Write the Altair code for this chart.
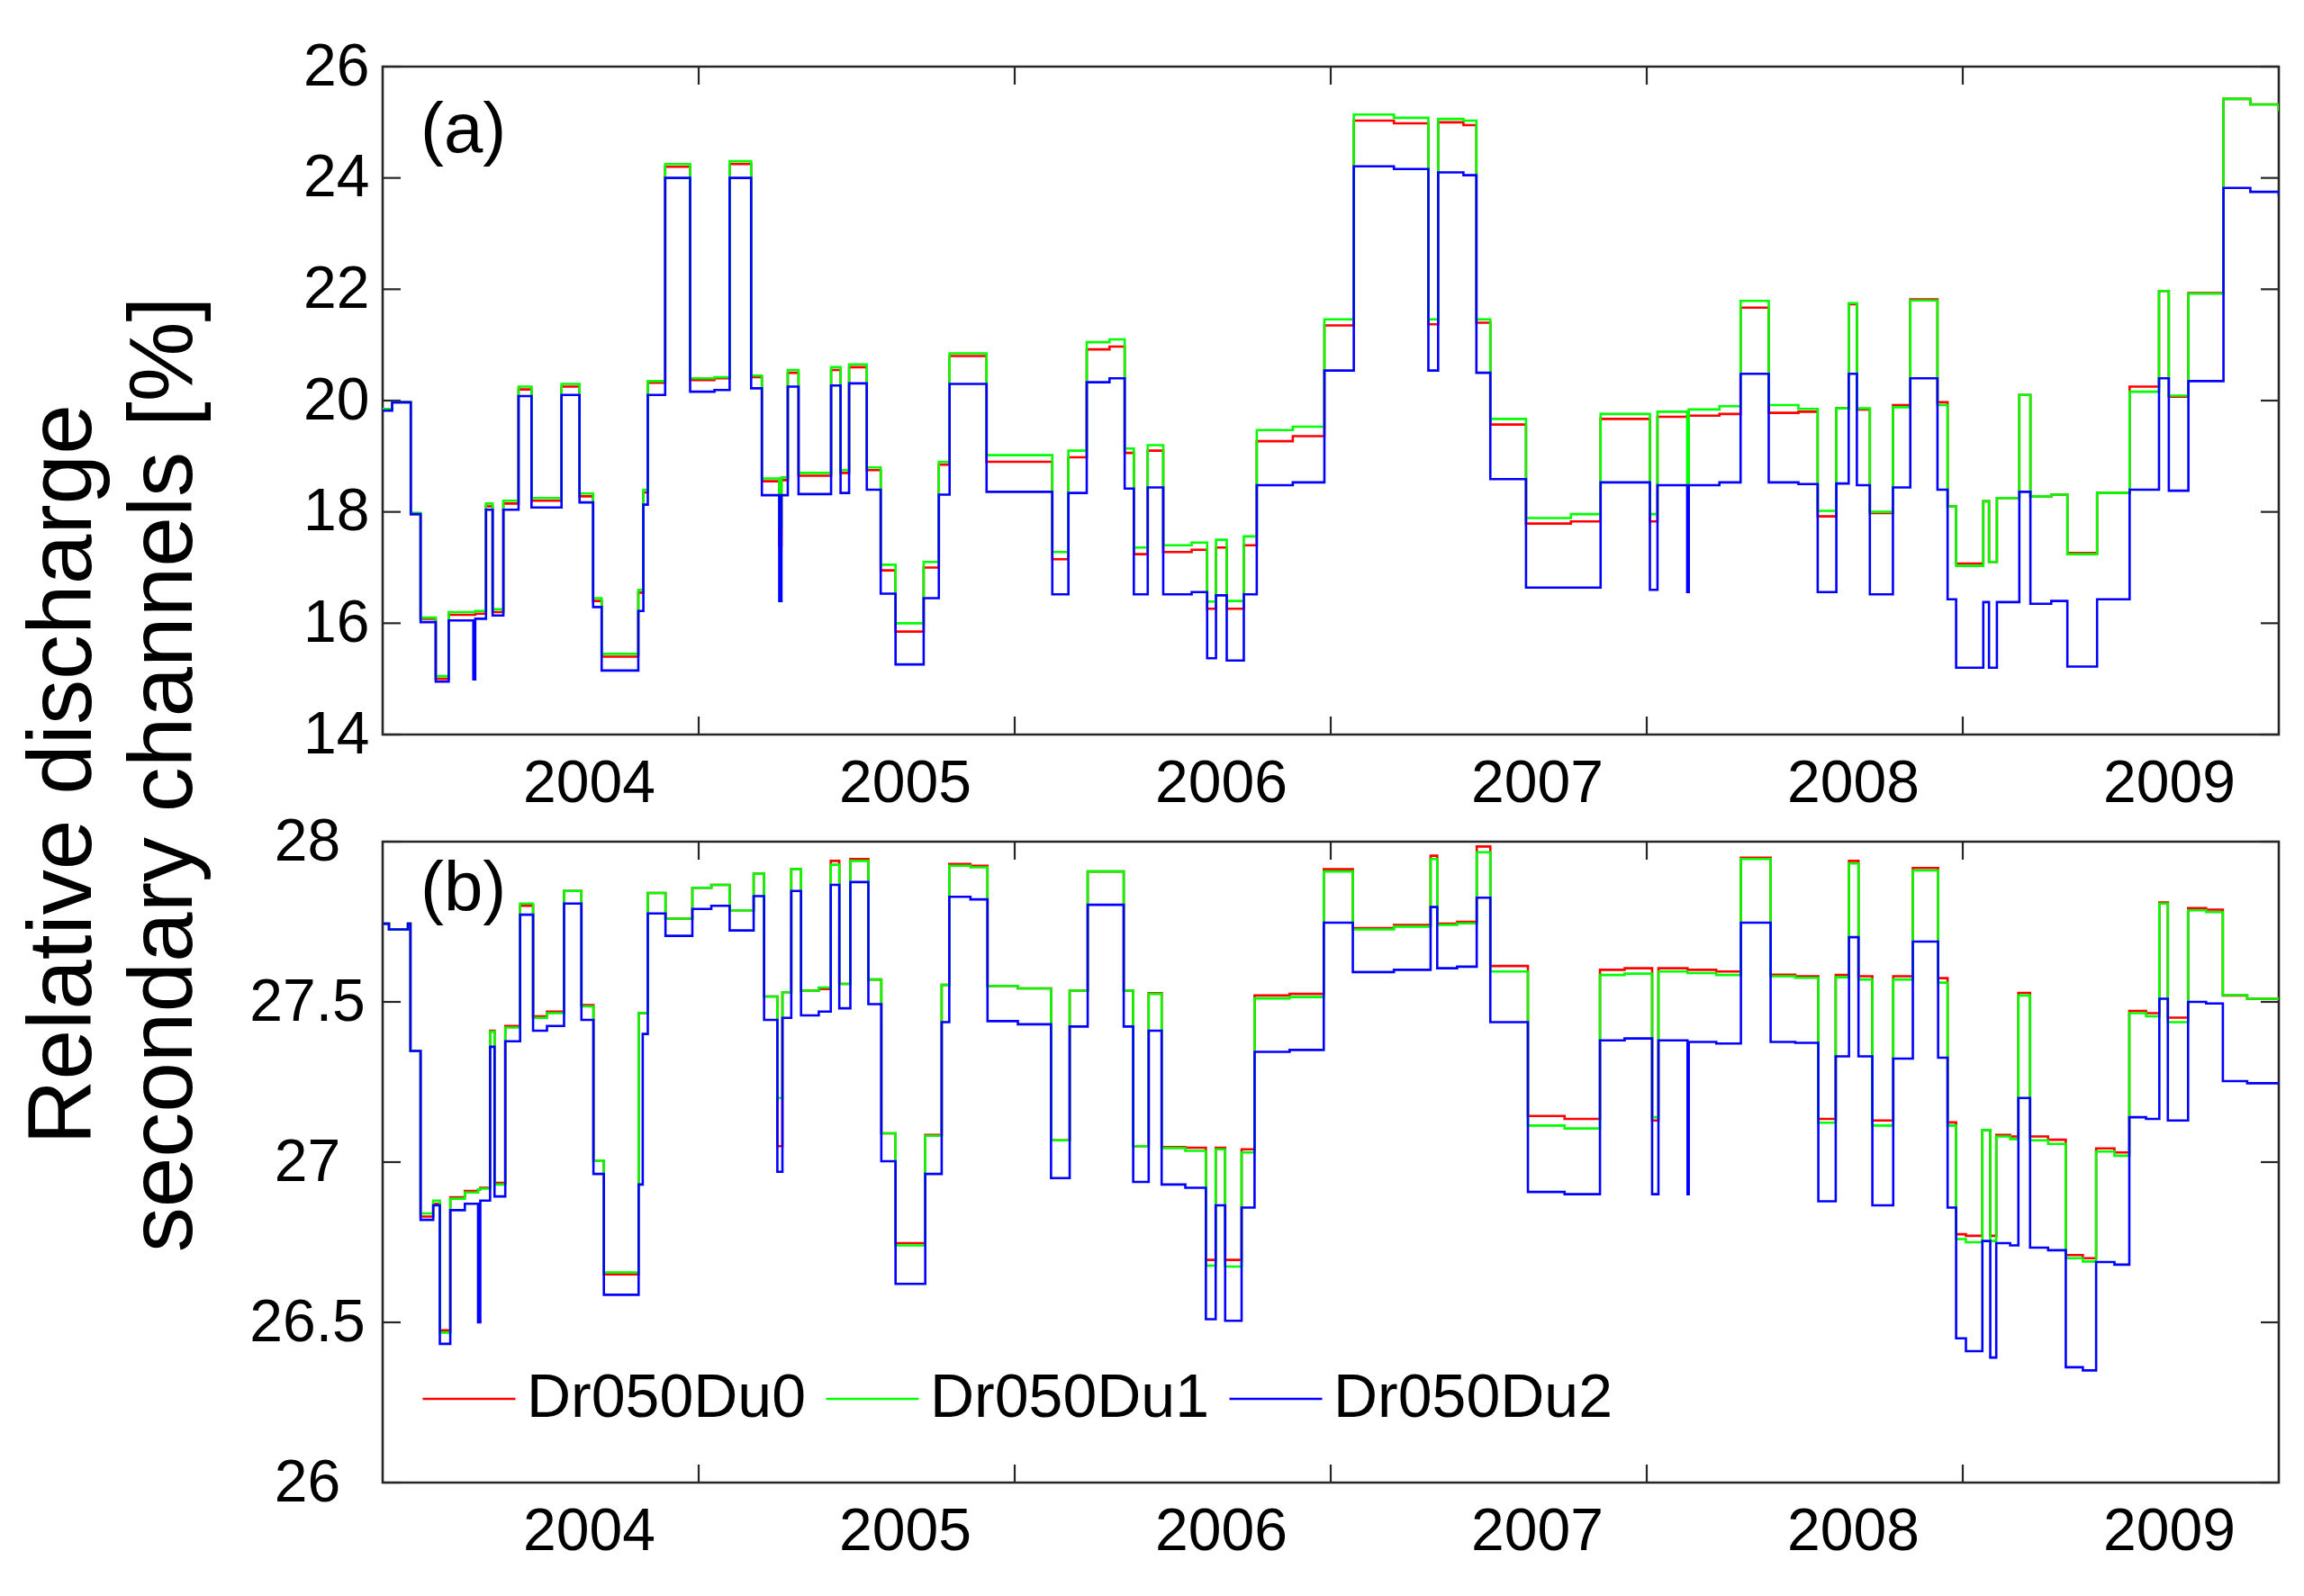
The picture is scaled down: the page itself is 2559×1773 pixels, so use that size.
import altair as alt
import pandas as pd

FONT = "Liberation Sans"
FRAME = "#262626"
SERIES = ["Dr050Du0", "Dr050Du1", "Dr050Du2"]
COLORS = ["#ff0000", "#00ff00", "#0000ff"]

YEAR_LABEL_TICKS = [2004, 2005, 2006, 2007, 2008, 2009]
YEAR_MARKS = [2004, 2005, 2006, 2007, 2008]
START_YEAR = 2003

# ---------------- panel (a): years since start, Du0 / Du1 / Du2 ----------------
TA = [0.000, 0.030, 0.089, 0.120, 0.168, 0.209, 0.287, 0.293, 0.327, 0.348,
      0.382, 0.430, 0.471, 0.566, 0.623, 0.666, 0.693, 0.809, 0.825, 0.839,
      0.894, 0.973, 1.050, 1.098, 1.166, 1.200, 1.255, 1.262, 1.282, 1.316,
      1.419, 1.449, 1.476, 1.532, 1.576, 1.623, 1.712, 1.760, 1.794, 1.911,
      2.119, 2.170, 2.228, 2.300, 2.348, 2.377, 2.421, 2.470, 2.560, 2.609,
      2.637, 2.671, 2.725, 2.766, 2.880, 2.980, 3.073, 3.200, 3.309, 3.340,
      3.420, 3.461, 3.505, 3.618, 3.760, 3.854, 4.010, 4.034, 4.128, 4.133,
      4.230, 4.297, 4.386, 4.480, 4.541, 4.600, 4.639, 4.665, 4.706, 4.779,
      4.834, 4.920, 4.952, 4.979, 5.065, 5.083, 5.108, 5.179, 5.214, 5.280,
      5.331, 5.425, 5.528, 5.621, 5.652, 5.714, 5.825, 5.910, 6.000]
A_DU0 = [19.85, 19.97, 17.96, 16.08, 15.00, 16.15, 16.15, 16.17, 18.10, 16.20,
         18.15, 20.20, 18.20, 20.25, 18.28, 16.40, 15.40, 16.55, 18.35, 20.32,
         24.20, 20.37, 20.40, 24.25, 20.42, 18.55, 17.40, 18.57, 20.50, 18.65,
         20.55, 18.70, 20.60, 18.75, 16.95, 15.85, 17.00, 18.85, 20.80, 18.90,
         17.15, 18.98, 20.92, 20.97, 19.06, 17.24, 19.10, 17.28, 17.32, 16.26,
         17.36, 16.26, 17.40, 19.27, 19.36, 21.35, 25.03, 24.98, 21.37, 25.00,
         24.95, 21.40, 19.57, 17.79, 17.83, 19.67, 17.83, 19.71, 19.72, 19.73,
         19.76, 21.67, 19.78, 19.80, 17.92, 19.86, 21.73, 19.84, 17.98, 19.92,
         21.82, 19.97, 18.10, 17.07, 18.19, 17.10, 18.25, 20.10, 18.28, 18.31,
         17.26, 18.34, 20.25, 21.97, 20.07, 21.93, 25.42, 25.32, 25.20]
A_DU1 = [19.85, 19.97, 17.98, 16.10, 15.05, 16.20, 16.20, 16.22, 18.15, 16.25,
         18.20, 20.25, 18.25, 20.30, 18.33, 16.45, 15.45, 16.60, 18.40, 20.35,
         24.25, 20.40, 20.42, 24.30, 20.45, 18.60, 17.70, 18.62, 20.55, 18.70,
         20.60, 18.75, 20.65, 18.80, 17.05, 16.00, 17.10, 18.90, 20.85, 19.02,
         17.28, 19.10, 21.05, 21.10, 19.14, 17.36, 19.20, 17.40, 17.45, 16.39,
         17.50, 16.40, 17.56, 19.47, 19.53, 21.46, 25.14, 25.08, 21.46, 25.06,
         25.03, 21.46, 19.67, 17.89, 17.96, 19.76, 17.96, 19.80, 18.50, 19.84,
         19.90, 21.79, 19.92, 19.85, 18.02, 19.86, 21.75, 19.86, 18.00, 19.88,
         21.80, 19.92, 18.10, 17.03, 18.19, 17.10, 18.25, 20.10, 18.28, 18.31,
         17.24, 18.34, 20.16, 21.97, 20.09, 21.92, 25.42, 25.32, 25.20]
A_DU2 = [19.82, 19.97, 17.96, 16.02, 14.95, 16.05, 14.99, 16.08, 18.04, 16.14,
         18.04, 20.08, 18.08, 20.10, 18.17, 16.29, 15.15, 16.22, 18.13, 20.10,
         24.00, 20.16, 20.19, 24.00, 20.22, 18.30, 16.40, 18.30, 20.25, 18.32,
         20.27, 18.34, 20.31, 18.40, 16.53, 15.26, 16.45, 18.31, 20.30, 18.36,
         16.52, 18.34, 20.33, 20.40, 18.42, 16.52, 18.44, 16.52, 16.56, 15.37,
         16.50, 15.33, 16.52, 18.48, 18.53, 20.54, 24.21, 24.16, 20.54, 24.10,
         24.05, 20.50, 18.59, 16.64, 16.64, 18.53, 16.60, 18.48, 16.56, 18.48,
         18.53, 20.48, 18.53, 18.50, 16.56, 18.51, 20.48, 18.48, 16.52, 18.44,
         20.40, 18.40, 16.43, 15.20, 16.38, 15.20, 16.38, 18.36, 16.35, 16.40,
         15.22, 16.43, 18.40, 20.40, 18.38, 20.35, 23.82, 23.75, 23.68]

# ---------------- panel (b) ----------------
TB = [0.000, 0.020, 0.080, 0.088, 0.120, 0.160, 0.181, 0.214, 0.260, 0.302,
      0.309, 0.340, 0.354, 0.388, 0.435, 0.476, 0.520, 0.574, 0.629, 0.667,
      0.700, 0.810, 0.823, 0.839, 0.895, 0.980, 1.040, 1.098, 1.174, 1.207,
      1.249, 1.265, 1.293, 1.324, 1.380, 1.418, 1.445, 1.480, 1.537, 1.578,
      1.623, 1.717, 1.769, 1.793, 1.860, 1.914, 2.010, 2.115, 2.174, 2.231,
      2.345, 2.375, 2.424, 2.465, 2.540, 2.605, 2.636, 2.666, 2.718, 2.759,
      2.870, 2.978, 3.070, 3.200, 3.316, 3.337, 3.400, 3.462, 3.505, 3.624,
      3.740, 3.852, 3.930, 4.017, 4.037, 4.129, 4.133, 4.220, 4.298, 4.392,
      4.470, 4.543, 4.598, 4.640, 4.670, 4.714, 4.780, 4.842, 4.922, 4.952,
      4.979, 5.010, 5.062, 5.087, 5.106, 5.150, 5.176, 5.213, 5.270, 5.326,
      5.380, 5.422, 5.480, 5.527, 5.580, 5.622, 5.649, 5.713, 5.770, 5.823,
      5.900, 6.000]
B_DU0 = [27.744, 27.726, 27.744, 27.347, 26.830, 26.870, 26.475, 26.890, 26.910, 26.915,
         26.920, 27.410, 26.935, 27.425, 27.800, 27.455, 27.470, 27.846, 27.490, 27.005,
         26.650, 27.465, 27.465, 27.840, 27.760, 27.856, 27.865, 27.786, 27.900, 27.517,
         27.050, 27.530, 27.914, 27.535, 27.540, 27.940, 27.556, 27.946, 27.570, 27.090,
         26.747, 27.085, 27.553, 27.930, 27.925, 27.550, 27.542, 27.068, 27.535, 27.907,
         27.535, 27.050, 27.527, 27.047, 27.045, 26.695, 27.045, 26.695, 27.040, 27.520,
         27.525, 27.914, 27.730, 27.740, 27.956, 27.744, 27.750, 27.985, 27.612, 27.144,
         27.135, 27.600, 27.605, 27.130, 27.605, 27.600, 27.600, 27.595, 27.950, 27.585,
         27.580, 27.135, 27.584, 27.940, 27.580, 27.130, 27.580, 27.918, 27.574, 27.124,
         26.775, 26.770, 27.100, 26.770, 27.085, 27.080, 27.528, 27.080, 27.070, 26.710,
         26.700, 27.043, 27.030, 27.472, 27.465, 27.810, 27.451, 27.793, 27.788, 27.520,
         27.510, 27.510]
B_DU1 = [27.744, 27.726, 27.744, 27.347, 26.840, 26.880, 26.468, 26.886, 26.905, 26.915,
         26.917, 27.407, 26.930, 27.420, 27.807, 27.450, 27.465, 27.846, 27.486, 27.005,
         26.656, 27.465, 27.465, 27.840, 27.760, 27.856, 27.865, 27.786, 27.900, 27.517,
         27.200, 27.530, 27.914, 27.535, 27.545, 27.928, 27.556, 27.940, 27.570, 27.090,
         26.740, 27.082, 27.553, 27.925, 27.920, 27.550, 27.542, 27.068, 27.535, 27.907,
         27.535, 27.050, 27.525, 27.044, 27.035, 26.677, 27.040, 26.674, 27.030, 27.511,
         27.515, 27.907, 27.726, 27.735, 27.946, 27.740, 27.745, 27.967, 27.595, 27.114,
         27.105, 27.584, 27.588, 27.140, 27.595, 27.590, 27.590, 27.584, 27.946, 27.580,
         27.575, 27.123, 27.577, 27.932, 27.570, 27.114, 27.570, 27.910, 27.560, 27.114,
         26.760, 26.750, 27.100, 26.754, 27.080, 27.072, 27.520, 27.068, 27.057, 26.700,
         26.690, 27.033, 27.020, 27.465, 27.455, 27.807, 27.437, 27.786, 27.780, 27.521,
         27.510, 27.510]
B_DU2 = [27.744, 27.726, 27.744, 27.347, 26.820, 26.865, 26.433, 26.850, 26.870, 26.500,
         26.880, 27.360, 26.893, 27.377, 27.772, 27.410, 27.425, 27.807, 27.444, 26.963,
         26.586, 26.930, 27.400, 27.776, 27.706, 27.790, 27.800, 27.723, 27.830, 27.444,
         26.970, 27.450, 27.846, 27.458, 27.470, 27.865, 27.480, 27.874, 27.493, 27.003,
         26.620, 26.963, 27.437, 27.828, 27.820, 27.440, 27.430, 26.950, 27.423, 27.803,
         27.423, 26.938, 27.410, 26.930, 26.920, 26.510, 26.865, 26.505, 26.858, 27.344,
         27.350, 27.747, 27.593, 27.600, 27.796, 27.605, 27.610, 27.825, 27.437, 26.907,
         26.900, 27.380, 27.386, 26.900, 27.380, 26.900, 27.375, 27.370, 27.747, 27.375,
         27.372, 26.878, 27.330, 27.702, 27.330, 26.865, 27.323, 27.688, 27.326, 26.858,
         26.450, 26.410, 26.754, 26.390, 26.747, 26.740, 27.200, 26.733, 26.725, 26.360,
         26.350, 26.688, 26.680, 27.140, 27.135, 27.510, 27.130, 27.500, 27.495, 27.253,
         27.246, 27.246]

YTICKS_A = [14, 16, 18, 20, 22, 24, 26]
YTICKS_B = [26, 26.5, 27, 27.5, 28]

W = 2106
HA = 742
HB = 712
TICK = 20
FS = 66


def long_df(t, cols):
    rows = []
    for name, vals in zip(SERIES, cols):
        for ti, v in zip(t, vals):
            rows.append({"t": START_YEAR + ti, "v": v, "series": name})
    return pd.DataFrame(rows)


def panel(df, ydom, yticks, yaxis, tag, tag_y, legend, height):
    x_enc = alt.X(
        "t:Q",
        scale=alt.Scale(domain=[2003, 2009], nice=False, zero=False),
        axis=alt.Axis(values=YEAR_LABEL_TICKS, format="d", title=None, ticks=False,
                      domain=False, grid=False, labelFontSize=FS, labelFont=FONT,
                      labelColor="black", labelPadding=22, labelOffset=-122,
                      labelFlush=False, labelOverlap=False),
    )
    y_enc = alt.Y("v:Q", scale=alt.Scale(domain=ydom, nice=False, zero=False), axis=yaxis)
    lines = alt.Chart(df).mark_line(interpolate="step-after", strokeWidth=2.6, clip=True).encode(
        x=x_enc, y=y_enc,
        color=alt.Color("series:N", scale=alt.Scale(domain=SERIES, range=COLORS), legend=legend),
    )
    ydf = pd.DataFrame({"v": yticks})
    xdf = pd.DataFrame({"t": YEAR_MARKS})
    lt = alt.Chart(ydf).mark_rule(color=FRAME, strokeWidth=2.2).encode(
        y=y_enc, x=alt.value(0), x2=alt.value(TICK))
    rt = alt.Chart(ydf).mark_rule(color=FRAME, strokeWidth=2.2).encode(
        y=y_enc, x=alt.value(W - TICK), x2=alt.value(W))
    bt = alt.Chart(xdf).mark_rule(color=FRAME, strokeWidth=2.2).encode(
        x=x_enc, y=alt.value(height - TICK), y2=alt.value(height))
    tt = alt.Chart(xdf).mark_rule(color=FRAME, strokeWidth=2.2).encode(
        x=x_enc, y=alt.value(0), y2=alt.value(TICK))
    lab = alt.Chart(pd.DataFrame({"label": [tag]})).mark_text(
        align="left", baseline="alphabetic", fontSize=78, font=FONT, color="black").encode(
        text="label:N", x=alt.value(42), y=alt.value(tag_y))
    return alt.layer(lt, rt, bt, tt, lines, lab).properties(width=W, height=height)


axis_a = alt.Axis(values=YTICKS_A, format="d", ticks=False, domain=False, grid=False,
                  labelFontSize=FS, labelFont=FONT, labelColor="black", labelAlign="right",
                  labelBaseline="middle", labelPadding=15, labelOverlap=False, labelFlush=False,
                  title=["Relative discharge", "secondary channels [%]"],
                  titleFont=FONT, titleFontSize=100, titleFontWeight="normal", titleColor="black",
                  titleAngle=270, titleAlign="center", titleBaseline="alphabetic",
                  titleLineHeight=112, titleX=-325, titleY=786)
axis_b = alt.Axis(values=YTICKS_B, format="~g", ticks=False, domain=False, grid=False,
                  labelFontSize=FS, labelFont=FONT, labelColor="black", labelAlign="center",
                  labelBaseline="middle", labelPadding=84, labelOverlap=False, labelFlush=False,
                  title=None)

legend_b = alt.Legend(orient="none", legendX=43, legendY=566, direction="horizontal", title=None,
                      symbolType="stroke", symbolSize=10609, symbolStrokeWidth=2.6,
                      labelFontSize=68, labelFont=FONT, labelColor="black", labelOffset=11,
                      columnPadding=17, padding=0, symbolOffset=0, labelLimit=2000)

pa = panel(long_df(TA, [A_DU0, A_DU1, A_DU2]), [14, 26], YTICKS_A, axis_a, "(a)", 95, None, HA)
pb = panel(long_df(TB, [B_DU0, B_DU1, B_DU2]), [26, 28], YTICKS_B, axis_b, "(b)", 77, legend_b, HB)

chart = alt.vconcat(pa, pb, spacing=119, bounds="flush").resolve_scale(
    x="independent", y="independent", color="independent"
).resolve_legend(color="independent").properties(
    padding={"left": 10, "top": 31, "right": 10, "bottom": 10}
).configure(
    background="white",
    view=alt.ViewConfig(stroke=FRAME, strokeWidth=2.6),
)

chart.save("out.html", embed_options={"renderer": "svg", "actions": False})
